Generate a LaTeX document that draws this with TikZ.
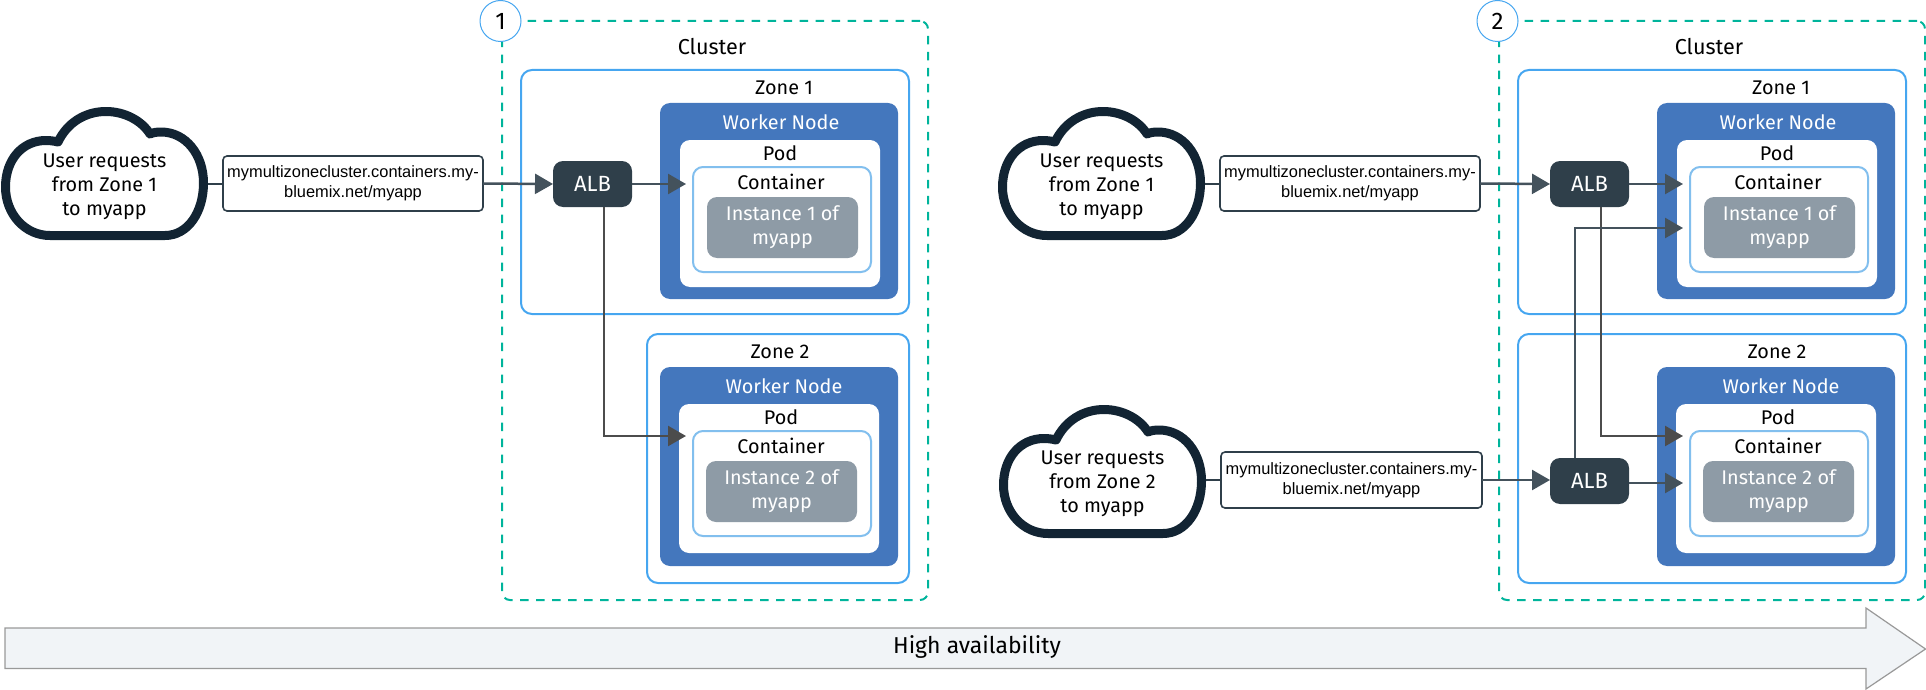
\documentclass[tikz,border=0pt]{standalone}
\usepackage{fontspec}
\setmainfont{Fira Sans}
\newfontfamily\urlfont{Liberation Sans}
\usetikzlibrary{arrows.meta, positioning}
\definecolor{clusterteal}{HTML}{00B49B}
\definecolor{zoneblue}{HTML}{46A6F0}
\definecolor{workerblue}{HTML}{4477BD}
\definecolor{containerblue}{HTML}{82BFEE}
\definecolor{instancegray}{HTML}{8E9BA6}
\definecolor{albslate}{HTML}{2F3F4A}
\definecolor{cloudnavy}{HTML}{122433}
\definecolor{barfill}{HTML}{F1F4F7}

\begin{document}
\begin{tikzpicture}[
  x=1pt, y=-1pt,
  font=\fontsize{19.8}{24}\selectfont,
  base/.style={rectangle, inner sep=0pt, outer sep=0pt},
  clusterbox/.style={base, draw=clusterteal, line width=2pt, rounded corners=8pt,
              dash pattern=on 8.5pt off 7.5pt, minimum width=426pt, minimum height=579pt},
  zonebox/.style={base, draw=zoneblue, line width=2pt, rounded corners=11pt},
  workerbox/.style={base, fill=workerblue, rounded corners=10pt, minimum width=238pt},
  podbox/.style={base, fill=white, rounded corners=10pt, minimum width=200pt},
  containerbox/.style={base, draw=containerblue, line width=2pt, fill=white, rounded corners=10pt,
              minimum width=178pt, minimum height=105pt},
  instancebox/.style={base, fill=instancegray, rounded corners=10pt, text=white, align=center,
              minimum width=151pt, minimum height=61pt},
  albbox/.style={base, fill=albslate, rounded corners=10pt, text=white,
              font=\fontsize{22}{24}\selectfont, minimum width=79pt, minimum height=46pt},
  urlbox/.style={base, draw=albslate, line width=1.6pt, fill=white, rounded corners=4pt, align=center,
              font=\urlfont\fontsize{16.4}{20}\selectfont, minimum width=260pt, minimum height=55pt},
  stepnum/.style={circle, draw=zoneblue, line width=1pt, fill=white, inner sep=0pt,
              minimum size=41pt, font=\fontsize{24}{24}\selectfont},
  cloudtxt/.style={base, align=center, minimum width=207pt},
  lbl/.style={base},
  wlbl/.style={base, text=white},
  arr/.style={-{Triangle[length=18pt, width=20pt]}, line width=2.5pt, draw=albslate!90!white},
  arrgray/.style={-{Triangle[length=18pt, width=20pt]}, line width=2.5pt, draw=black!70},
  cloudline/.pic={
    \draw[cloudnavy, line width=9pt, line join=round]
      (50,235.5) -- (165,235.5)
      .. controls (188,235.5) and (203.5,212) .. (203.5,183)
      .. controls (203.5,155) and (186,132) .. (161,132)
      .. controls (157,132) and (153,132.5) .. (150,134)
      .. controls (142,121) and (125,111.5) .. (106,111.5)
      .. controls (85,111.5) and (67,123) .. (58,142)
      .. controls (54,141) and (50,140.5) .. (46,140.5)
      .. controls (22,140.5) and (5.5,160) .. (5.5,187)
      .. controls (5.5,214) and (25,235.5) .. (50,235.5) -- cycle;
  }
]
\useasboundingbox (0,0) rectangle (1926,690);
% the two panels share everything right of the urls
\foreach \pn/\px/\zx/\zw in {1/0/778/262, 2/997/715/388} {
\begin{scope}[xshift=\px pt]
\node (cluster\pn) [clusterbox] at (715,310.5) {};
\node (step\pn) [stepnum] at (500.5,21) {\pn};
\node (clusterlbl\pn) [lbl, font=\fontsize{21.6}{24}\selectfont] at (712,47) {Cluster};
\node (zoneA\pn) [zonebox, minimum width=388pt, minimum height=244pt] at (715,192) {};
\node (zoneAlbl\pn) [lbl] at (784,88) {Zone 1};
\node (workerA\pn) [workerbox, minimum height=196pt] at (779,201) {};
\node (workerAlbl\pn) [wlbl] at (781,122) {Worker Node};
\node (podA\pn) [podbox, minimum height=147pt] at (780,213.5) {};
\node (podAlbl\pn) [lbl] at (780,153) {Pod};
\node (containerA\pn) [containerbox] at (782,219.5) {};
\node (containerAlbl\pn) [lbl] at (781,182) {Container};
\node (instanceA\pn) [instancebox] at (782.5,227.5) {Instance 1 of\\myapp};
\node (zoneB\pn) [zonebox, minimum width=\zw pt, minimum height=249pt] at (\zx,458.5) {};
\node (zoneBlbl\pn) [lbl] at (780,352) {Zone 2};
\node (workerB\pn) [workerbox, minimum height=199pt] at (779,466.5) {};
\node (workerBlbl\pn) [wlbl] at (784,386) {Worker Node};
\node (podB\pn) [podbox, minimum height=149pt] at (779,478.5) {};
\node (podBlbl\pn) [lbl] at (781,417) {Pod};
\node (containerB\pn) [containerbox] at (782,483.5) {};
\node (containerBlbl\pn) [lbl] at (781,446) {Container};
\node (instanceB\pn) [instancebox] at (781.5,491.5) {Instance 2 of\\myapp};
\node (url\pn) [urlbox] at (353,183.5) {mymultizonecluster.containers.my-\\bluemix.net/myapp};
\node (alb\pn) [albbox] at (592.5,184) {ALB};
\node (cloud\pn) [cloudtxt] at (104.5,186.5) {User requests\\from Zone 1\\to myapp};
\coordinate (tipA\pn) at (686,184);
\coordinate (tipB\pn) at (686,436);
\draw[albslate, line width=2pt] (cloud\pn.east |- url\pn.west) -- (url\pn.west);
\draw[arr] (url\pn.east) -- (alb\pn.west);
\draw[arr] (alb\pn.east) -- (tipA\pn);
\draw[arrgray] ([xshift=11.5pt]alb\pn.south) |- (tipB\pn);
\pic at (0,0) {cloudline};
\end{scope}
}
% second request path of panel 2
\node (url3) [urlbox, minimum width=261pt, minimum height=56pt] at (1351.5,480) {mymultizonecluster.containers.my-\\bluemix.net/myapp};
\node (alb3) [albbox] at (1589.5,481) {ALB};
\node (cloud3) [cloudtxt] at (1102.5,484) {User requests\\from Zone 2\\to myapp};
\coordinate (tipC) at (1683,228);
\coordinate (tipD) at (1683,483);
\draw[albslate, line width=2pt] (cloud3.east |- url3.west) -- (url3.west);
\draw[arr] (url3.east) -- (alb3.west |- url3.east);
\draw[arr] (alb3.east |- tipD) -- (tipD);
\draw[arr] ([xshift=-14.5pt]alb3.north) |- (tipC);
\pic at (998,298) {cloudline};
% availability bar
\draw[draw=black!40, line width=1.2pt, fill=barfill]
  (5,628) -- (1866,628) -- (1866,608) -- (1925.5,649) -- (1866,689) -- (1866,668.5) -- (5,668.5) -- cycle;
\node (availlbl) [lbl, font=\fontsize{23}{24}\selectfont] at (977,647) {High availability};
\end{tikzpicture}
\end{document}
